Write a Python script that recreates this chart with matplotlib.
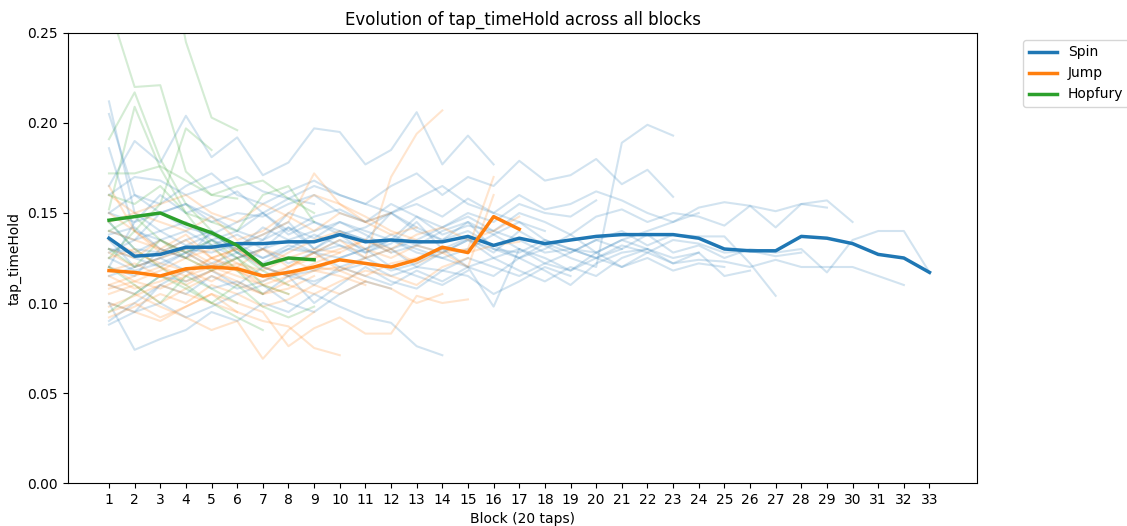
import numpy as np
import matplotlib.pyplot as plt

# Mean tap_timeHold per block for each game
spin_mean = [0.136, 0.126, 0.127, 0.131, 0.131, 0.133, 0.133, 0.134, 0.134, 0.138,
             0.134, 0.135, 0.134, 0.134, 0.137, 0.132, 0.136, 0.133, 0.135, 0.137,
             0.138, 0.138, 0.138, 0.136, 0.130, 0.129, 0.129, 0.137, 0.136, 0.133,
             0.127, 0.125, 0.117]
jump_mean = [0.118, 0.117, 0.115, 0.119, 0.120, 0.119, 0.115, 0.117, 0.120, 0.124,
             0.122, 0.120, 0.124, 0.131, 0.128, 0.148, 0.141]
hopfury_mean = [0.146, 0.148, 0.150, 0.144, 0.139, 0.132, 0.121, 0.125, 0.124]

# Individual sessions (faint lines)
spin_sessions = [
    [0.165, 0.190, 0.178, 0.204, 0.181, 0.192, 0.171, 0.178, 0.197, 0.195, 0.177, 0.185, 0.206, 0.177, 0.193, 0.177],
    [0.120, 0.115, 0.130, 0.125, 0.140, 0.128, 0.135, 0.142, 0.130, 0.138, 0.128, 0.133, 0.145, 0.130, 0.136, 0.128,
     0.140, 0.132, 0.125, 0.120, 0.189, 0.199, 0.193],
    [0.150, 0.145, 0.160, 0.150, 0.155, 0.162, 0.150, 0.158, 0.165, 0.160, 0.155, 0.165, 0.172, 0.160, 0.170, 0.165,
     0.179, 0.168, 0.171, 0.180, 0.166, 0.174, 0.159],
    [0.140, 0.135, 0.150, 0.142, 0.138, 0.145, 0.150, 0.140, 0.148, 0.152, 0.145, 0.150, 0.155, 0.148, 0.158, 0.150,
     0.160, 0.152, 0.155, 0.162, 0.157, 0.150, 0.145, 0.153, 0.156, 0.154, 0.151, 0.155, 0.157, 0.145],
    [0.130, 0.128, 0.135, 0.140, 0.132, 0.138, 0.130, 0.142, 0.136, 0.145, 0.140, 0.135, 0.148, 0.138, 0.143, 0.140,
     0.150, 0.145, 0.138, 0.148, 0.152, 0.145, 0.150, 0.148, 0.143, 0.154, 0.142, 0.155, 0.153],
    [0.135, 0.120, 0.125, 0.130, 0.128, 0.133, 0.125, 0.130, 0.128, 0.135, 0.130, 0.138, 0.132, 0.128, 0.135, 0.130,
     0.125, 0.133, 0.128, 0.135, 0.130, 0.138, 0.128, 0.132, 0.125, 0.130, 0.128, 0.130, 0.117, 0.135, 0.140, 0.140,
     0.117],
    [0.110, 0.105, 0.115, 0.112, 0.118, 0.110, 0.120, 0.115, 0.112, 0.118, 0.122, 0.115, 0.120, 0.118, 0.125, 0.120,
     0.115, 0.122, 0.118, 0.125, 0.120, 0.128, 0.122, 0.124, 0.123, 0.120, 0.124, 0.120, 0.120, 0.120, 0.115, 0.110],
    [0.125, 0.118, 0.122, 0.128, 0.120, 0.125, 0.130, 0.122, 0.128, 0.132, 0.125, 0.130, 0.120, 0.128, 0.135, 0.125,
     0.130, 0.122, 0.128, 0.135, 0.140, 0.132, 0.138, 0.137, 0.137, 0.122, 0.104],
    [0.145, 0.130, 0.128, 0.135, 0.140, 0.132, 0.138, 0.145, 0.130, 0.140, 0.135, 0.128, 0.132, 0.140, 0.145, 0.130,
     0.128, 0.135, 0.130, 0.125, 0.132, 0.128, 0.135, 0.133, 0.128, 0.129, 0.126, 0.128],
    [0.100, 0.095, 0.110, 0.105, 0.115, 0.108, 0.112, 0.118, 0.110, 0.120, 0.115, 0.110, 0.118, 0.112, 0.120, 0.125,
     0.118, 0.112, 0.120, 0.115, 0.125, 0.130, 0.122, 0.128, 0.115, 0.118],
    [0.212, 0.150, 0.140, 0.145, 0.135, 0.140, 0.150, 0.138, 0.145, 0.140, 0.135, 0.150, 0.142, 0.135, 0.140, 0.132,
     0.125, 0.130, 0.138, 0.128, 0.135, 0.130, 0.125, 0.128],
    [0.205, 0.160, 0.150, 0.155, 0.145, 0.150, 0.148, 0.155, 0.160, 0.150, 0.145, 0.155, 0.148, 0.142, 0.150, 0.145,
     0.155, 0.150, 0.148, 0.157],
    [0.186, 0.140, 0.135, 0.128, 0.132, 0.125, 0.130, 0.135, 0.128, 0.120, 0.125, 0.118, 0.122, 0.130, 0.120, 0.115,
     0.125, 0.118, 0.110, 0.122, 0.128, 0.130],
    [0.100, 0.074, 0.080, 0.085, 0.095, 0.090, 0.100, 0.095, 0.105, 0.098, 0.092, 0.089, 0.076, 0.071],
    [0.120, 0.145, 0.150, 0.155, 0.148, 0.140, 0.135, 0.150, 0.145, 0.138, 0.142, 0.150, 0.140, 0.135, 0.145, 0.138,
     0.130],
    [0.090, 0.100, 0.110, 0.118, 0.108, 0.112, 0.105, 0.115, 0.100, 0.110, 0.120, 0.112, 0.108, 0.118, 0.115, 0.105,
     0.112, 0.120, 0.115],
    [0.160, 0.170, 0.168, 0.160, 0.165, 0.170, 0.162, 0.158, 0.155],
    [0.088, 0.095, 0.100, 0.092, 0.098, 0.105, 0.110, 0.100, 0.095, 0.105, 0.112, 0.108],
    [0.138, 0.142, 0.130, 0.125, 0.135, 0.128, 0.122, 0.130, 0.138, 0.132, 0.128, 0.135, 0.130, 0.125, 0.130, 0.138,
     0.145, 0.135, 0.130, 0.128, 0.120, 0.125, 0.118, 0.122, 0.120],
    [0.128, 0.135, 0.140, 0.132, 0.138, 0.130, 0.142, 0.135, 0.140, 0.145, 0.138, 0.130, 0.135, 0.142, 0.148, 0.140,
     0.135, 0.128, 0.130, 0.125, 0.130],
    [0.115, 0.120, 0.125, 0.118, 0.122, 0.128, 0.120, 0.115, 0.118, 0.125, 0.130, 0.120, 0.115, 0.110, 0.118],
    [0.150, 0.160, 0.155, 0.165, 0.172, 0.160, 0.155, 0.162, 0.168, 0.160, 0.155, 0.150, 0.158, 0.165, 0.155, 0.150,
     0.145, 0.140],
    [0.130, 0.125, 0.120, 0.128, 0.135, 0.130, 0.125, 0.132, 0.128, 0.125, 0.130, 0.135, 0.128, 0.125, 0.120, 0.098,
     0.130, 0.125, 0.118, 0.128, 0.135, 0.140, 0.145, 0.150],
]

jump_sessions = [
    [0.125, 0.130, 0.120, 0.115, 0.125, 0.118, 0.110, 0.115, 0.120, 0.118, 0.125, 0.170, 0.194, 0.207],
    [0.110, 0.115, 0.120, 0.112, 0.118, 0.125, 0.130, 0.120, 0.128, 0.135, 0.125, 0.130, 0.122, 0.128, 0.130, 0.170],
    [0.140, 0.135, 0.130, 0.138, 0.125, 0.130, 0.120, 0.128, 0.135, 0.140, 0.130, 0.125, 0.132, 0.128, 0.120, 0.160],
    [0.120, 0.112, 0.118, 0.125, 0.130, 0.122, 0.118, 0.125, 0.130, 0.128, 0.135, 0.130, 0.138, 0.142, 0.135, 0.140,
     0.148],
    [0.105, 0.110, 0.100, 0.108, 0.115, 0.110, 0.105, 0.112, 0.118, 0.120, 0.115, 0.122, 0.125, 0.130, 0.128, 0.132,
     0.134],
    [0.095, 0.100, 0.092, 0.098, 0.105, 0.100, 0.095, 0.076, 0.086, 0.092, 0.083, 0.083, 0.104, 0.100, 0.102],
    [0.100, 0.095, 0.090, 0.098, 0.105, 0.095, 0.090, 0.087, 0.075, 0.071],
    [0.110, 0.105, 0.098, 0.092, 0.085, 0.090, 0.069, 0.085, 0.095],
    [0.160, 0.150, 0.145, 0.140, 0.148, 0.135, 0.140, 0.150, 0.160, 0.155, 0.145, 0.150],
    [0.130, 0.125, 0.135, 0.128, 0.120, 0.132, 0.138, 0.145, 0.172, 0.155, 0.148, 0.140, 0.135],
    [0.150, 0.140, 0.128, 0.135, 0.125, 0.120, 0.130, 0.125, 0.118, 0.115, 0.110],
    [0.092, 0.098, 0.105, 0.100, 0.110, 0.105, 0.098, 0.102, 0.110, 0.105, 0.112, 0.108, 0.100, 0.105],
    [0.118, 0.122, 0.115, 0.110, 0.118, 0.112, 0.105, 0.108, 0.115],
    [0.128, 0.120, 0.125, 0.130, 0.122, 0.118, 0.112, 0.120, 0.125, 0.130, 0.135, 0.128],
    [0.108, 0.112, 0.108, 0.115, 0.120, 0.115, 0.110, 0.105],
    [0.145, 0.150, 0.155, 0.160, 0.150, 0.145, 0.155, 0.148, 0.140, 0.150, 0.145, 0.138, 0.142],
    [0.135, 0.128, 0.122, 0.118, 0.125, 0.130, 0.120, 0.115, 0.122, 0.128],
    [0.098, 0.104, 0.110, 0.105, 0.100, 0.095],
    [0.115, 0.108, 0.112, 0.118, 0.112, 0.120, 0.115, 0.110, 0.105, 0.112, 0.118, 0.115, 0.110, 0.120, 0.125],
    [0.165, 0.140, 0.130, 0.125, 0.118, 0.122, 0.115, 0.120, 0.128, 0.118, 0.112],
]

hopfury_sessions = [
    [0.265, 0.220, 0.221, 0.173, 0.160, 0.158],
    [0.300, 0.310, 0.320, 0.245, 0.203, 0.196],
    [0.191, 0.217, 0.180, 0.155, 0.140, 0.128, 0.118, 0.110],
    [0.172, 0.172, 0.176, 0.168, 0.160, 0.165, 0.168, 0.158, 0.150],
    [0.152, 0.209, 0.175, 0.150, 0.132, 0.118, 0.105],
    [0.125, 0.140, 0.155, 0.197, 0.185],
    [0.145, 0.130, 0.120, 0.110, 0.100, 0.092, 0.085],
    [0.160, 0.155, 0.165, 0.150, 0.145, 0.140, 0.160, 0.165, 0.145],
    [0.130, 0.120, 0.135, 0.125, 0.118, 0.125, 0.110, 0.105],
    [0.095, 0.105, 0.115, 0.108, 0.100, 0.110, 0.098, 0.092, 0.098],
    [0.140, 0.148, 0.135, 0.128, 0.135, 0.125, 0.115],
    [0.120, 0.110, 0.100, 0.115, 0.108, 0.100],
]

games = ["Spin", "Jump", "Hopfury"]
colors = ["#1f77b4", "#ff7f0e", "#2ca02c"]
sessions = [spin_sessions, jump_sessions, hopfury_sessions]
means = [spin_mean, jump_mean, hopfury_mean]

fig = plt.figure(figsize=(11.27, 5.26), dpi=100)
ax = fig.add_axes([0.0603, 0.0817, 0.807, 0.8556])

# faint individual lines
for game_sessions, c in zip(sessions, colors):
    for s in game_sessions:
        ax.plot(np.arange(1, len(s) + 1), s, color=c, alpha=0.2, linewidth=1.5)

# bold mean lines
for name, m, c in zip(games, means, colors):
    ax.plot(np.arange(1, len(m) + 1), m, color=c, linewidth=2.5, label=name)

ax.set_xlim(-0.6, 34.87)
ax.set_ylim(0, 0.25)
ax.set_xticks(np.arange(1, 34))
ax.set_yticks(np.arange(0, 0.26, 0.05))
ax.yaxis.set_major_formatter(plt.FormatStrFormatter("%.2f"))

ax.set_title("Evolution of tap_timeHold across all blocks")
ax.set_xlabel("Block (20 taps)")
ax.set_ylabel("tap_timeHold")
ax.legend(bbox_to_anchor=(1.043, 1), loc="upper left", borderaxespad=0.5)

plt.savefig("out.png")
